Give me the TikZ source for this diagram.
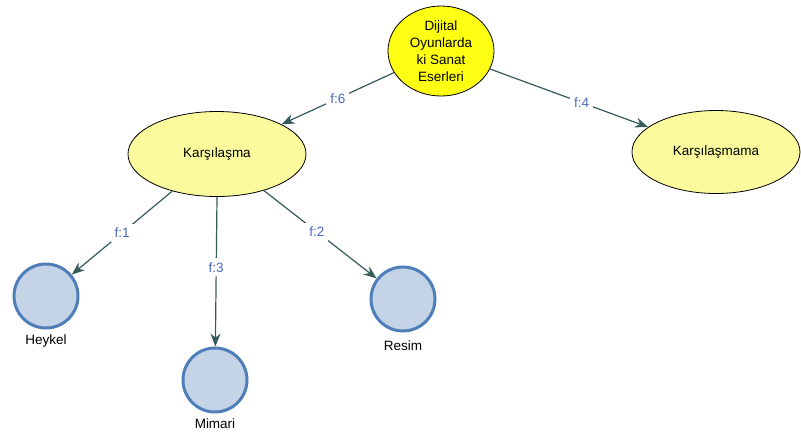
\documentclass[tikz,border=0pt]{standalone}
\usepackage{fontspec}
\setmainfont{Liberation Sans}
\usetikzlibrary{shapes.geometric,arrows.meta}
\definecolor{edgecol}{HTML}{355A5A}
\definecolor{labcol}{HTML}{4A68C0}
\definecolor{topyel}{HTML}{FFFF14}
\definecolor{lightyel}{HTML}{FBFB9E}
\definecolor{circfill}{HTML}{C4D4E6}
\definecolor{circline}{HTML}{4F7FB8}
\tikzset{
  oval/.style={ellipse, draw=black, line width=0.8pt, font=\fontsize{13.5}{17}\selectfont, align=center, inner sep=0pt},
  leaf/.style={circle, draw=circline, line width=3pt, fill=circfill, minimum size=64pt, inner sep=0pt},
  leaflab/.style={font=\fontsize{13.5}{15}\selectfont},
  conn/.style={draw=edgecol, line width=1.2pt, -{Stealth[length=13pt,width=10pt]}},
  elab/.style={fill=white, text=labcol, font=\fontsize{13.5}{15}\selectfont, inner sep=4pt}
}
\begin{document}
\begin{tikzpicture}[x=1pt,y=-1pt]
\useasboundingbox (0,0) rectangle (801,432);
\node[oval, fill=topyel, minimum width=106pt, minimum height=90pt] (top) at (441,51) {Dijital\\Oyunlarda\\ki Sanat\\Eserleri};
\node[oval, fill=lightyel, minimum width=178pt, minimum height=85pt] (k) at (217,154) {Karşılaşma};
\node[oval, fill=lightyel, minimum width=168pt, minimum height=83pt] (km) at (716,152) {Karşılaşmama};
\node[leaf] (h) at (46,296) {};
\node[leaf] (m) at (215,380) {};
\node[leaf] (r) at (403,299) {};
\node[leaflab] (hl) at (46,341) {Heykel};
\node[leaflab] (ml) at (215,424) {Mimari};
\node[leaflab] (rl) at (403,346) {Resim};
\draw[conn] (top) -- node[elab, pos=0.5] {f:6} (k);
\draw[conn] (top) -- node[elab, pos=0.58] {f:4} (km);
\draw[conn] (k) -- node[elab, pos=0.5] {f:1} (h);
\draw[conn] (k.south) -- node[elab, pos=0.47] {f:3} (m);
\draw[conn] (k) -- node[elab, pos=0.47] {f:2} (r);
\end{tikzpicture}
\end{document}
